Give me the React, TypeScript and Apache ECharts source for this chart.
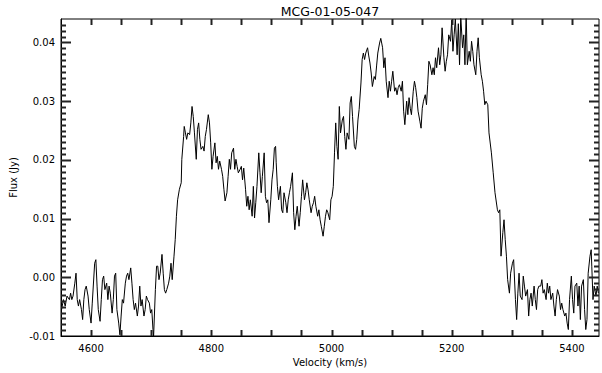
import { useEffect, useRef } from 'react';
import * as echarts from 'echarts';

const titleText = 'MCG-01-05-047';
const xName = 'Velocity (km/s)';
const yName = 'Flux (Jy)';

// Velocity (km/s) of each channel
const velocity = [
  4551, 4554, 4557, 4560, 4564, 4566, 4568, 4570, 4573, 4575,
  4577, 4579, 4581, 4584, 4586, 4588, 4590, 4592, 4595, 4597,
  4600, 4602, 4606, 4608, 4610, 4612, 4615, 4617, 4619, 4621,
  4623, 4626, 4628, 4630, 4632, 4635, 4637, 4639, 4641, 4643,
  4646, 4648, 4650, 4652, 4654, 4657, 4659, 4661, 4663, 4666,
  4668, 4670, 4672, 4674, 4677, 4679, 4681, 4683, 4685, 4688,
  4690, 4692, 4694, 4697, 4699, 4701, 4703, 4704, 4707, 4709,
  4711, 4713, 4715, 4718, 4720, 4722, 4724, 4726, 4729, 4731,
  4733, 4735, 4738, 4740, 4742, 4744,
  4747, 4750, 4751, 4754, 4755, 4757, 4759, 4761, 4764, 4766,
  4768, 4770, 4772, 4775, 4777, 4779, 4781, 4783, 4786, 4788,
  4790, 4792, 4795, 4797, 4799, 4801, 4803, 4806, 4808, 4810,
  4812, 4814, 4817, 4819, 4821, 4823, 4826, 4828, 4830, 4832,
  4834, 4837, 4839, 4841, 4843, 4845, 4848, 4850, 4852, 4854,
  4857, 4859, 4861, 4863, 4865, 4868, 4870, 4872, 4874, 4876,
  4879, 4881, 4883, 4885, 4888, 4890, 4892, 4894, 4896, 4899,
  4901, 4903, 4905, 4907,
  4908, 4910, 4912, 4915, 4917, 4919, 4921, 4924, 4926, 4928,
  4930, 4932, 4935, 4937, 4939, 4941, 4943, 4946, 4948, 4950,
  4952, 4955, 4957, 4959, 4961, 4963, 4966, 4968, 4970, 4972,
  4974, 4977, 4979, 4981, 4983, 4986, 4988, 4990, 4992, 4994,
  4997, 4999, 5001, 5003, 5005, 5007, 5009, 5011, 5013, 5015,
  5018, 5020, 5022, 5024, 5026, 5029, 5031, 5033, 5035, 5038,
  5040, 5042, 5044, 5046, 5049, 5051, 5053, 5055, 5057, 5060,
  5062, 5064, 5066, 5068, 5071, 5073, 5075, 5077, 5080,
  5082, 5085, 5087, 5089, 5091, 5094, 5096, 5098, 5100, 5102,
  5105, 5107, 5109, 5111, 5113, 5116, 5118, 5120, 5122, 5125,
  5127, 5129, 5131, 5133, 5136, 5138, 5140, 5142, 5144, 5147,
  5149, 5151, 5153, 5156, 5158, 5160, 5162, 5164, 5167, 5169,
  5171, 5173, 5175, 5178, 5180, 5182, 5184, 5187, 5189, 5191,
  5193, 5195, 5198, 5200, 5202, 5204, 5206, 5209, 5211, 5213,
  5215, 5218, 5220, 5222, 5224, 5226, 5229, 5231, 5233, 5235,
  5237, 5240, 5242, 5244, 5246, 5249, 5251, 5253, 5255, 5257, 5260,
  5262, 5266, 5269, 5272, 5276, 5278, 5280, 5282, 5285, 5287,
  5289, 5291, 5293, 5296, 5298, 5301, 5303, 5306, 5308, 5310,
  5312, 5314, 5317, 5319, 5321, 5323, 5326, 5328, 5330, 5332,
  5334, 5337, 5339, 5341, 5343, 5345, 5348, 5350, 5352, 5354,
  5357, 5359, 5361, 5363, 5365, 5368, 5370, 5372, 5374, 5376,
  5379, 5381, 5383, 5385, 5388, 5390, 5392, 5394, 5396, 5399,
  5401, 5403, 5405, 5408, 5410, 5412, 5414, 5416, 5419, 5421,
  5423, 5425, 5427, 5430, 5432, 5433, 5435, 5437, 5440, 5442, 5444,
];

// Flux density (Jy) for each channel
const flux = [
  -0.0055, -0.0038, -0.0049, -0.0032, -0.0038, -0.0027, -0.0038, -0.0032, -0.0010, 0.0007,
  -0.0038, -0.0049, -0.0038, -0.0055, -0.0072, -0.0038, -0.0021, -0.0015, -0.0032, -0.0055,
  -0.0078, -0.0044, 0.0024, 0.0030, -0.0015, -0.0055, -0.0075, -0.0038, -0.0004, 0.0002,
  -0.0021, -0.0010, -0.0038, -0.0015, -0.0027, -0.0061, -0.0038, 0.0002, 0.0007, -0.0055,
  -0.0078, -0.0098, -0.0066, -0.0038, -0.0044, -0.0010, 0.0002, 0.0007, -0.0004, 0.0016,
  -0.0010, -0.0038, -0.0055, -0.0044, -0.0066, -0.0049, -0.0015, -0.0049, -0.0038, -0.0066,
  -0.0055, -0.0032, -0.0038, -0.0044, -0.0061, -0.0055, -0.0089, -0.0102, -0.0021, 0.0019,
  0.0019, -0.0004, 0.0007, 0.0039, 0.0007, -0.0021, -0.0027, -0.0021, -0.0010, 0.0002,
  0.0024, -0.0004, 0.0036, 0.0064, 0.0104, 0.0132,
  0.0150, 0.0161, 0.0201, 0.0240, 0.0257, 0.0246, 0.0235, 0.0246, 0.0243, 0.0263,
  0.0291, 0.0274, 0.0246, 0.0201, 0.0252, 0.0263, 0.0235, 0.0218, 0.0223, 0.0215,
  0.0240, 0.0252, 0.0277, 0.0263, 0.0229, 0.0184, 0.0206, 0.0229, 0.0195, 0.0206,
  0.0184, 0.0198, 0.0184, 0.0172, 0.0150, 0.0130, 0.0144, 0.0172, 0.0201, 0.0184,
  0.0212, 0.0220, 0.0184, 0.0201, 0.0189, 0.0178, 0.0184, 0.0189, 0.0166, 0.0186,
  0.0150, 0.0121, 0.0138, 0.0115, 0.0132, 0.0104, 0.0155, 0.0101, 0.0127, 0.0155,
  0.0212, 0.0178, 0.0144, 0.0172, 0.0212, 0.0138, 0.0127, 0.0132, 0.0093, 0.0132,
  0.0166, 0.0184, 0.0220, 0.0223,
  0.0195, 0.0155, 0.0132, 0.0155, 0.0115, 0.0110, 0.0144, 0.0127, 0.0110, 0.0132,
  0.0144, 0.0155, 0.0178, 0.0110, 0.0081, 0.0104, 0.0121, 0.0087, 0.0110, 0.0138,
  0.0166, 0.0132, 0.0144, 0.0161, 0.0149, 0.0132, 0.0110, 0.0121, 0.0127, 0.0138,
  0.0121, 0.0104, 0.0115, 0.0098, 0.0087, 0.0070, 0.0087, 0.0104, 0.0115, 0.0110,
  0.0098, 0.0132, 0.0138, 0.0155, 0.0212, 0.0263, 0.0223, 0.0201, 0.0291, 0.0246,
  0.0268, 0.0274, 0.0240, 0.0218, 0.0246, 0.0235, 0.0297, 0.0308, 0.0274, 0.0223,
  0.0218, 0.0235, 0.0268, 0.0286, 0.0331, 0.0371, 0.0382, 0.0371, 0.0382, 0.0391,
  0.0377, 0.0365, 0.0348, 0.0325, 0.0342, 0.0337, 0.0360, 0.0382, 0.0399,
  0.0407, 0.0391, 0.0357, 0.0374, 0.0334, 0.0306, 0.0334, 0.0317, 0.0334, 0.0351,
  0.0317, 0.0323, 0.0311, 0.0323, 0.0328, 0.0317, 0.0334, 0.0283, 0.0260, 0.0300,
  0.0277, 0.0306, 0.0288, 0.0277, 0.0317, 0.0334, 0.0323, 0.0306, 0.0283, 0.0266,
  0.0254, 0.0288, 0.0300, 0.0311, 0.0294, 0.0328, 0.0368, 0.0362, 0.0345, 0.0357,
  0.0345, 0.0374, 0.0357, 0.0391, 0.0362, 0.0379, 0.0425, 0.0374, 0.0351, 0.0368,
  0.0379, 0.0413, 0.0402, 0.0438, 0.0385, 0.0413, 0.0440, 0.0379, 0.0432, 0.0362,
  0.0445, 0.0391, 0.0413, 0.0362, 0.0450, 0.0362, 0.0385, 0.0368, 0.0402, 0.0385,
  0.0362, 0.0345, 0.0385, 0.0408, 0.0374, 0.0345, 0.0334, 0.0317, 0.0294, 0.0300, 0.0294,
  0.0246, 0.0212, 0.0178, 0.0144, 0.0115, 0.0110, 0.0115, 0.0036, 0.0076, 0.0098,
  0.0064, 0.0036, -0.0004, -0.0027, 0.0007, 0.0024, 0.0030, -0.0038, -0.0072, -0.0027,
  0.0007, -0.0032, -0.0038, 0.0002, -0.0015, -0.0032, -0.0021, -0.0066, -0.0038, -0.0027,
  -0.0049, -0.0015, -0.0038, -0.0055, -0.0021, -0.0015, -0.0015, -0.0004, -0.0027, -0.0021,
  -0.0038, -0.0010, -0.0027, -0.0015, -0.0038, -0.0027, -0.0049, -0.0066, -0.0038, -0.0021,
  -0.0032, -0.0055, -0.0044, -0.0055, -0.0066, -0.0061, -0.0078, -0.0089, -0.0038, 0.0002,
  -0.0038, -0.0061, -0.0015, -0.0010, -0.0049, -0.0015, -0.0072, -0.0015, -0.0004, -0.0055,
  -0.0089, -0.0072, 0.0007, 0.0036, 0.0047, 0.0019, -0.0038, -0.0015, -0.0032, -0.0015, -0.0027,
];

// Axis settings
const X_MIN = 4550;
const X_MAX = 5445;
const X_STEP = 50;
const X_LABEL_STEP = 200;
const Y_MIN = -0.01;
const Y_MAX = 0.044;
const Y_STEP = 0.01;
const Y_MINOR_PER_MAJOR = 10;

const FONT = 'DejaVu Sans';

function buildXTicks(): number[] {
  const out: number[] = [];
  for (let v = X_MIN + X_STEP; v < X_MAX; v += X_STEP) out.push(v);
  return out;
}

function buildYTicks(): [number, number][] {
  // [value, isMajor]
  const out: [number, number][] = [];
  const n = Math.round((Y_MAX - Y_MIN) / (Y_STEP / Y_MINOR_PER_MAJOR));
  for (let k = 1; k <= n; k++) {
    const v = Y_MIN + (k * Y_STEP) / Y_MINOR_PER_MAJOR;
    if (v > Y_MAX - 1e-9) break;
    out.push([v, k % Y_MINOR_PER_MAJOR === 0 ? 1 : 0]);
  }
  return out;
}

const TICK_COLOR = '#222';
const TICK_W = 2;
const X_TICK_LEN = 6;
const Y_MAJOR_LEN = 10;
const Y_MINOR_LEN = 5;

export default function App() {
  const ref = useRef<HTMLDivElement>(null);

  useEffect(() => {
    if (!ref.current) return;
    const chart = echarts.init(ref.current, null, { renderer: 'svg' });
    const data = velocity.map((v, i) => [v, flux[i]]);
    const xTicks = buildXTicks();
    const yTicks = buildYTicks();

    const xTickSeries = (edge: 'bottom' | 'top') => ({
      type: 'custom',
      silent: true,
      clip: false,
      z: 5,
      data: xTicks.map((v) => [v, edge === 'bottom' ? Y_MIN : Y_MAX]),
      renderItem: (_params: any, api: any) => {
        const p = api.coord([api.value(0), api.value(1)]);
        const x = Math.round(p[0]) - 0.5;
        const y = edge === 'bottom' ? p[1] - X_TICK_LEN : p[1];
        return {
          type: 'rect',
          shape: { x, y, width: TICK_W, height: X_TICK_LEN },
          style: { fill: TICK_COLOR },
        };
      },
    });

    const yTickSeries = (edge: 'left' | 'right') => ({
      type: 'custom',
      silent: true,
      clip: false,
      z: 5,
      data: yTicks.map(([v, m]) => [edge === 'left' ? X_MIN : X_MAX, v, m]),
      renderItem: (_params: any, api: any) => {
        const p = api.coord([api.value(0), api.value(1)]);
        const len = api.value(2) === 1 ? Y_MAJOR_LEN : Y_MINOR_LEN;
        const y = Math.round(p[1]) - 0.5;
        const x = edge === 'left' ? p[0] : p[0] - len;
        return {
          type: 'rect',
          shape: { x, y, width: len, height: TICK_W },
          style: { fill: TICK_COLOR },
        };
      },
    });

    chart.setOption({
      animation: false,
      grid: {
        left: 61,
        right: 3,
        top: 19,
        bottom: 37,
        show: true,
        borderColor: '#000',
        borderWidth: 1,
        backgroundColor: 'transparent',
        containLabel: false,
      },
      graphic: [
        {
          type: 'text',
          x: 330,
          y: 11,
          style: {
            text: titleText,
            fill: '#000',
            font: `12.5px "${FONT}"`,
            textAlign: 'center',
            textVerticalAlign: 'middle',
          },
        },
      ],
      xAxis: {
        type: 'value',
        min: X_MIN,
        max: X_MAX,
        interval: X_STEP,
        position: 'bottom',
        splitLine: { show: false },
        axisLine: { show: true, onZero: false, lineStyle: { color: '#000', width: 1 } },
        axisTick: { show: false },
        name: xName,
        nameLocation: 'middle',
        nameGap: 19,
        nameTextStyle: { color: '#000', fontFamily: FONT, fontSize: 10 },
        axisLabel: {
          show: true,
          margin: 7,
          color: '#000',
          fontFamily: FONT,
          fontSize: 10,
          formatter: (v: number) =>
            Math.round(v) % X_LABEL_STEP === 0 ? String(Math.round(v)) : '',
        },
      },
      yAxis: {
        type: 'value',
        min: Y_MIN,
        max: Y_MAX,
        interval: Y_STEP,
        position: 'left',
        splitLine: { show: false },
        axisLine: { show: true, onZero: false, lineStyle: { color: '#000', width: 1 } },
        axisTick: { show: false },
        name: yName,
        nameLocation: 'middle',
        nameRotate: 90,
        nameGap: 35,
        nameTextStyle: { color: '#000', fontFamily: FONT, fontSize: 10 },
        axisLabel: {
          show: true,
          margin: 6,
          color: '#000',
          fontFamily: FONT,
          fontSize: 10,
          formatter: (v: number) => {
            const r = Math.round(v * 100);
            return Math.abs(v * 100 - r) < 1e-6 ? (r / 100).toFixed(2) : '';
          },
        },
      },
      series: [
        {
          type: 'line',
          data,
          showSymbol: false,
          symbol: 'none',
          clip: true,
          lineStyle: { color: '#000', width: 1 },
          z: 2,
        },
        xTickSeries('bottom'),
        xTickSeries('top'),
        yTickSeries('left'),
        yTickSeries('right'),
      ],
    });

    return () => chart.dispose();
  }, []);

  return (
    <div
      ref={ref}
      style={{ position: 'absolute', left: 0, top: 0, width: 602, height: 373, background: '#fff' }}
    />
  );
}
